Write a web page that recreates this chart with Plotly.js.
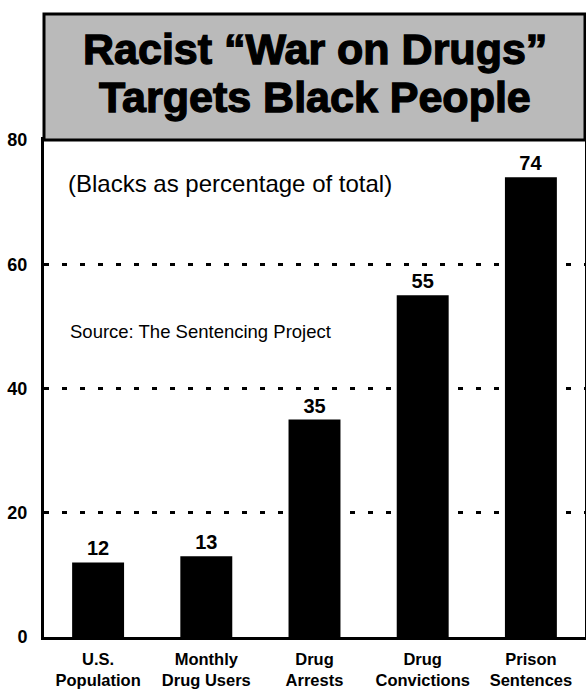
<!DOCTYPE html>
<html>
<head>
<meta charset="utf-8">
<script src="https://cdn.plot.ly/plotly-3.0.1.min.js"></script>
<style>
html,body{margin:0;padding:0;background:#fff;}
#chart{width:586px;height:692px;}
g.annotation[data-index="0"] text, g.annotation[data-index="1"] text{stroke:#000;stroke-width:1.3px;}
</style>
</head>
<body>
<div id="chart"></div>
<script>
var categories = ["U.S.<br>Population", "Monthly<br>Drug Users", "Drug<br>Arrests", "Drug<br>Convictions", "Prison<br>Sentences"];
var values = [12, 13, 35, 55, 74];
var yTicks = [0, 20, 40, 60, 80];
var titleLines = ["Racist “War on Drugs”", "Targets Black People"];
var subtitle = "(Blacks as percentage of total)";
var sourceNote = "Source: The Sentencing Project";

var F = "Liberation Sans, Arial, Helvetica, sans-serif";

var trace = {
  type: "bar",
  x: categories,
  y: values,
  text: values.map(String),
  textposition: "outside",
  cliponaxis: false,
  textfont: {family: F, size: 20, color: "#000", weight: "bold"},
  marker: {color: "#000", line: {width: 0}},
  width: 0.48,
  hoverinfo: "none"
};

var layout = {
  width: 586, height: 692,
  margin: {l: 44, r: 1, t: 140, b: 55},
  paper_bgcolor: "#fff",
  plot_bgcolor: "#fff",
  showlegend: false,
  font: {family: F, color: "#000"},
  xaxis: {
    range: [-0.5, 4.5],
    showline: true, linecolor: "#000", linewidth: 3, mirror: true,
    showgrid: false, zeroline: false,
    ticks: "outside", ticklen: 5, tickcolor: "rgba(0,0,0,0)",
    tickfont: {family: F, size: 16.5, color: "#000", weight: "bold"},
    fixedrange: true
  },
  yaxis: {
    range: [0, 80],
    tickvals: yTicks,
    ticktext: yTicks.map(String),
    showline: true, linecolor: "#000", linewidth: 3, mirror: true,
    showgrid: true, gridcolor: "#000", gridwidth: 3, griddash: "5px,13px",
    zeroline: false,
    ticks: "outside", ticklen: 10, tickcolor: "rgba(0,0,0,0)",
    tickfont: {family: F, size: 18, color: "#000", weight: "bold"},
    fixedrange: true
  },
  shapes: [{
    type: "rect", xref: "paper", yref: "paper",
    x0: 0, x1: 1, y0: 1, y1: 1 + 126 / 497,
    fillcolor: "#bababa", line: {color: "#000", width: 3}, layer: "above"
  }],
  annotations: [
    {xref: "paper", yref: "paper", x: 0.5, y: 1 + 91 / 497, text: titleLines[0],
     showarrow: false, xanchor: "center", yanchor: "middle",
     font: {family: F, size: 43, color: "#000", weight: "bold"}},
    {xref: "paper", yref: "paper", x: 0.5, y: 1 + 43 / 497, text: titleLines[1],
     showarrow: false, xanchor: "center", yanchor: "middle",
     font: {family: F, size: 43, color: "#000", weight: "bold"}},
    {xref: "paper", yref: "paper", x: 22 / 541, y: 1 - 43 / 497, text: subtitle,
     showarrow: false, xanchor: "left", yanchor: "middle",
     font: {family: F, size: 24, color: "#000"}},
    {xref: "paper", yref: "paper", x: 24 / 541, y: 1 - 191 / 497, text: sourceNote,
     showarrow: false, xanchor: "left", yanchor: "middle",
     font: {family: F, size: 18.5, color: "#000"}}
  ]
};

Plotly.newPlot("chart", [trace], layout, {displayModeBar: false, staticPlot: true});
</script>
</body>
</html>
